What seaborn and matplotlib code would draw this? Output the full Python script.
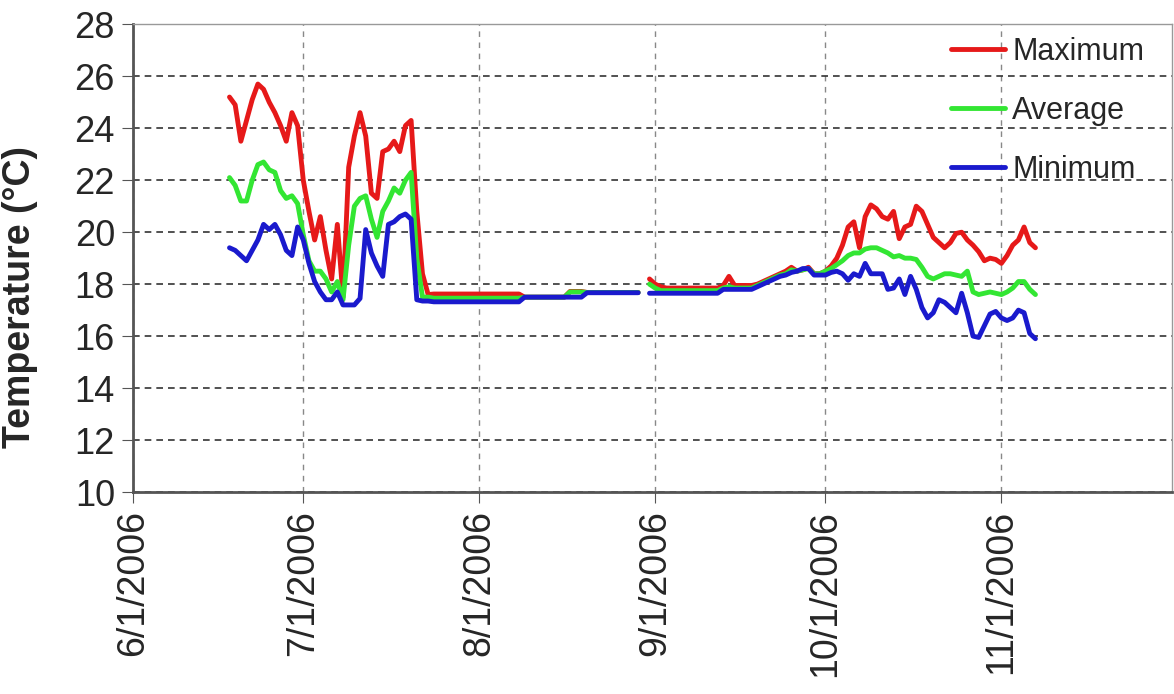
import pandas as pd
import matplotlib
matplotlib.use("Agg")
import matplotlib.pyplot as plt
import seaborn as sns

# Daily logger readings, split at the missing day (8/30/2006)
summer_start, summer_end = "2006-06-18", "2006-08-29"
autumn_start, autumn_end = "2006-08-31", "2006-11-07"

max_summer = [
    25.2, 24.9, 23.5, 24.3, 25.1, 25.7, 25.5, 25.0, 24.6, 24.1, 23.5, 24.6, 24.1,
    22.0, 20.8, 19.7, 20.6, 19.3, 18.2, 20.3, 17.5, 22.5, 23.7, 24.6, 23.7, 21.5,
    21.3, 23.1, 23.2, 23.5, 23.1, 24.1, 24.3, 20.8, 18.4, 17.6,
    17.62, 17.62, 17.62, 17.62, 17.62, 17.62, 17.62, 17.62, 17.62, 17.62, 17.62,
    17.62, 17.62, 17.62, 17.62, 17.62, 17.5, 17.5, 17.5, 17.5, 17.5, 17.5, 17.5,
    17.5, 17.72, 17.72, 17.72, 17.68, 17.68, 17.68, 17.68, 17.68, 17.68, 17.68,
    17.68, 17.68, 17.68,
]
avg_summer = [
    22.1, 21.8, 21.2, 21.2, 22.0, 22.6, 22.7, 22.4, 22.3, 21.6, 21.3, 21.4, 21.1,
    19.9, 18.9, 18.5, 18.5, 18.2, 17.7, 18.1, 17.4, 19.5, 21.0, 21.3, 21.4, 20.5,
    19.8, 20.8, 21.2, 21.7, 21.5, 22.0, 22.3, 19.0, 17.5, 17.5,
    17.46, 17.46, 17.46, 17.46, 17.46, 17.46, 17.46, 17.46, 17.46, 17.46, 17.46,
    17.46, 17.46, 17.46, 17.46, 17.46, 17.5, 17.5, 17.5, 17.5, 17.5, 17.5, 17.5,
    17.5, 17.7, 17.7, 17.7, 17.68, 17.68, 17.68, 17.68, 17.68, 17.68, 17.68, 17.68,
    17.68, 17.68,
]
min_summer = [
    19.4, 19.3, 19.1, 18.9, 19.3, 19.7, 20.3, 20.1, 20.3, 19.9, 19.3, 19.1, 20.2,
    19.7, 18.8, 18.1, 17.7, 17.4, 17.4, 17.7, 17.2, 17.2, 17.2, 17.45, 20.1, 19.2,
    18.7, 18.3, 20.3, 20.4, 20.6, 20.7, 20.5, 17.4, 17.35, 17.35,
    17.32, 17.32, 17.32, 17.32, 17.32, 17.32, 17.32, 17.32, 17.32, 17.32, 17.32,
    17.32, 17.32, 17.32, 17.32, 17.32, 17.5, 17.5, 17.5, 17.5, 17.5, 17.5, 17.5,
    17.5, 17.5, 17.5, 17.5, 17.67, 17.67, 17.67, 17.67, 17.67, 17.67, 17.67, 17.67,
    17.67, 17.67,
]

max_autumn = [
    18.2, 18.0, 17.9, 17.85, 17.85, 17.85, 17.85, 17.85, 17.85, 17.85, 17.85, 17.85,
    17.85, 17.95, 18.3, 17.95, 17.95, 17.95, 17.95, 18.0, 18.1, 18.2, 18.3, 18.4,
    18.5, 18.65, 18.5, 18.55, 18.65, 18.4, 18.4,
    18.5, 18.7, 19.0, 19.5, 20.2, 20.4, 19.4, 20.6, 21.05, 20.9, 20.6, 20.5, 20.8,
    19.75, 20.2, 20.3, 21.0, 20.8, 20.3, 19.8, 19.6, 19.4, 19.6, 19.95, 20.0, 19.7,
    19.5, 19.25, 18.9, 19.0, 18.95, 18.8, 19.1, 19.5, 19.7, 20.2, 19.6, 19.4,
]
avg_autumn = [
    18.0, 17.85, 17.75, 17.75, 17.75, 17.75, 17.75, 17.75, 17.75, 17.75, 17.75, 17.75,
    17.75, 17.85, 17.9, 17.85, 17.85, 17.85, 17.85, 17.95, 18.05, 18.15, 18.25, 18.35,
    18.4, 18.55, 18.5, 18.55, 18.6, 18.4, 18.4,
    18.5, 18.6, 18.75, 18.9, 19.1, 19.2, 19.2, 19.35, 19.4, 19.4, 19.3, 19.2, 19.05,
    19.1, 19.0, 19.0, 18.95, 18.65, 18.3, 18.2, 18.3, 18.4, 18.4, 18.35, 18.3, 18.5,
    17.7, 17.6, 17.65, 17.7, 17.65, 17.6, 17.7, 17.85, 18.1, 18.1, 17.8, 17.6,
]
min_autumn = [
    17.65, 17.65, 17.65, 17.65, 17.65, 17.65, 17.65, 17.65, 17.65, 17.65, 17.65, 17.65,
    17.65, 17.8, 17.8, 17.8, 17.8, 17.8, 17.8, 17.9, 18.0, 18.1, 18.2, 18.3, 18.35,
    18.45, 18.5, 18.6, 18.6, 18.35, 18.35,
    18.35, 18.45, 18.5, 18.4, 18.15, 18.4, 18.3, 18.8, 18.4, 18.4, 18.4, 17.8, 17.85,
    18.2, 17.6, 18.3, 17.8, 17.1, 16.7, 16.9, 17.4, 17.3, 17.1, 16.9, 17.65, 16.9,
    16.0, 15.95, 16.4, 16.85, 16.95, 16.7, 16.6, 16.7, 17.0, 16.9, 16.1, 15.9,
]

series_names = ["Maximum", "Average", "Minimum"]
line_colors = ["#e61919", "#33e633", "#1a1acd"]

tick_dates = ["2006-06-01", "2006-07-01", "2006-08-01", "2006-09-01", "2006-10-01", "2006-11-01"]
tick_labels = ["6/1/2006", "7/1/2006", "8/1/2006", "9/1/2006", "10/1/2006", "11/1/2006"]

# Build long table, one segment on each side of the gap
frames = []
for name, summer, autumn in zip(series_names,
                                [max_summer, avg_summer, min_summer],
                                [max_autumn, avg_autumn, min_autumn]):
    frames.append(pd.DataFrame({"date": pd.date_range(summer_start, summer_end),
                                "temp": summer, "series": name, "segment": "a"}))
    frames.append(pd.DataFrame({"date": pd.date_range(autumn_start, autumn_end),
                                "temp": autumn, "series": name, "segment": "b"}))
df = pd.concat(frames, ignore_index=True)

sns.set_style("white")
plt.rcParams["font.family"] = ["Liberation Sans", "DejaVu Sans"]

fig, ax = plt.subplots(figsize=(11.74, 6.94), dpi=100)
fig.subplots_adjust(left=0.1133, right=0.998, top=0.965, bottom=0.291)

sns.lineplot(
    data=df, x="date", y="temp", hue="series", units="segment", estimator=None,
    hue_order=series_names, palette=line_colors, linewidth=3.5, ax=ax
)

ax.set_xlim(pd.Timestamp("2006-06-01"), pd.Timestamp("2006-12-01"))
ax.set_xticks(pd.to_datetime(tick_dates))
ax.set_xticklabels(tick_labels, rotation=90, fontsize=27)
ax.set_ylim(10, 28)
ax.set_yticks(range(10, 29, 2))
ax.tick_params(axis="y", labelsize=26, length=8, color="#555555", direction="out", left=True, pad=5)
ax.tick_params(axis="x", length=8, color="#555555", direction="out", bottom=True, pad=5)

ax.set_axisbelow(True)
ax.grid(axis="y", linestyle=(0, (4, 3)), color="#333333", linewidth=1.2)
ax.grid(axis="x", linestyle=(0, (4, 4)), color="#888888", linewidth=1.0)

for side in ["left", "bottom"]:
    ax.spines[side].set_color("#555555")
    ax.spines[side].set_linewidth(2)
for side in ["top", "right"]:
    ax.spines[side].set_color("#999999")
    ax.spines[side].set_linewidth(1)

ax.set_xlabel("")
ax.set_ylabel("Temperature (\u00b0C)", fontsize=27, fontweight="bold")
ax.yaxis.set_label_coords(-0.091, 0.417)

sns.move_legend(
    ax, "upper left", bbox_to_anchor=(0.776, 1.0), frameon=False, title=None,
    fontsize=22, handlelength=1.75, handletextpad=0.25, labelspacing=0.95,
    borderaxespad=0
)
for h in ax.get_legend().legend_handles:
    h.set_linewidth(3.5)

fig.savefig("out.png", dpi=100)
